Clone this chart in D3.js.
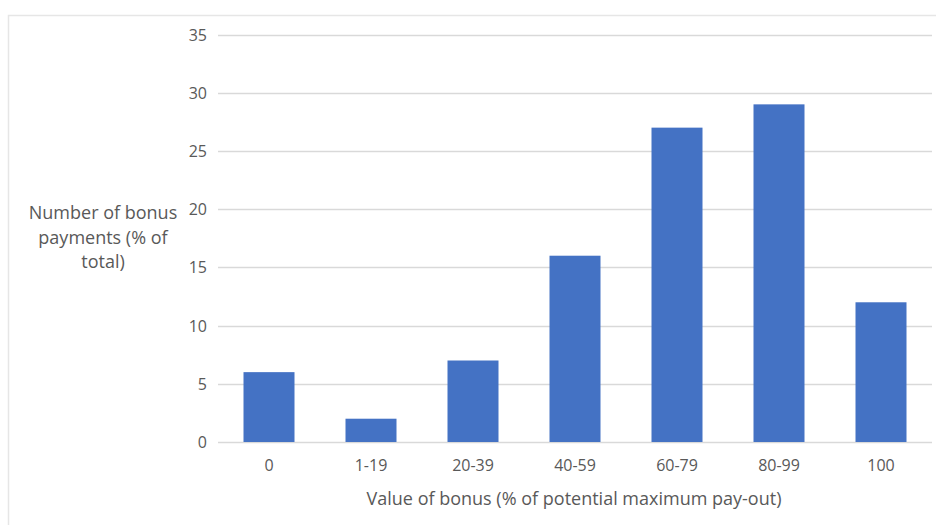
<!DOCTYPE html>
<html><head><meta charset="utf-8">
<script src="https://cdn.jsdelivr.net/npm/d3@7"></script>
<style>
html,body{margin:0;padding:0;background:#fff;}
text{font-family:"Open Sans",sans-serif;fill:#595959;}
</style></head>
<body>
<svg id="chart" width="936" height="525"></svg>
<script>
const categories = ["0","1-19","20-39","40-59","60-79","80-99","100"];
const values = [6,2,7,16,27,29,12];
const yTicks = [0,5,10,15,20,25,30,35];
const yTitleLines = ["Number of bonus","payments (% of","total)"];
const xTitle = "Value of bonus (% of potential maximum pay-out)";

const svg = d3.select("#chart");
// outer chart border
svg.append("rect").attr("x",8.5).attr("y",15.5).attr("width",940).attr("height",520)
  .attr("fill","none").attr("stroke","#e6e6e6").attr("stroke-width",1.5);

const x = d3.scaleBand().domain(categories).range([218,932]).paddingInner(0.5).paddingOuter(0.25);
const y = d3.scaleLinear().domain([0,35]).range([442,34.5]);

const grid = svg.append("g");
grid.selectAll("line").data(yTicks).join("line")
  .attr("x1",218).attr("x2",932)
  .attr("y1",d=>Math.round(y(d))+0.5).attr("y2",d=>Math.round(y(d))+0.5)
  .attr("stroke","#d9d9d9").attr("stroke-width",1.3);

const yAxis = d3.axisLeft(y).tickValues(yTicks).tickSize(0).tickPadding(0);
const gy = svg.append("g").attr("transform","translate(207,0)").call(yAxis);
gy.select(".domain").remove();
gy.selectAll("text").attr("font-size",16).attr("fill","#595959").attr("dy","0.35em")
  .style("font-family","'Open Sans',sans-serif");

svg.append("g").selectAll("rect").data(values).join("rect")
  .attr("x",(d,i)=>x(categories[i]))
  .attr("width",x.bandwidth())
  .attr("y",d=>y(d))
  .attr("height",d=>y(0)-y(d))
  .attr("fill","#4472c4");

const xAxis = d3.axisBottom(x).tickSize(0).tickPadding(0);
const gx = svg.append("g").attr("transform","translate(0,471)").call(xAxis);
gx.select(".domain").remove();
gx.selectAll("text").attr("font-size",16).attr("fill","#595959").attr("y",0).attr("dy",0)
  .style("font-family","'Open Sans',sans-serif");

svg.append("text").attr("x",574).attr("y",505).attr("text-anchor","middle")
  .attr("font-size",18).text(xTitle);

svg.append("g").selectAll("text").data(yTitleLines).join("text")
  .attr("x",103).attr("y",(d,i)=>219+i*24.5).attr("text-anchor","middle")
  .attr("font-size",18).text(d=>d);
</script>
</body></html>
